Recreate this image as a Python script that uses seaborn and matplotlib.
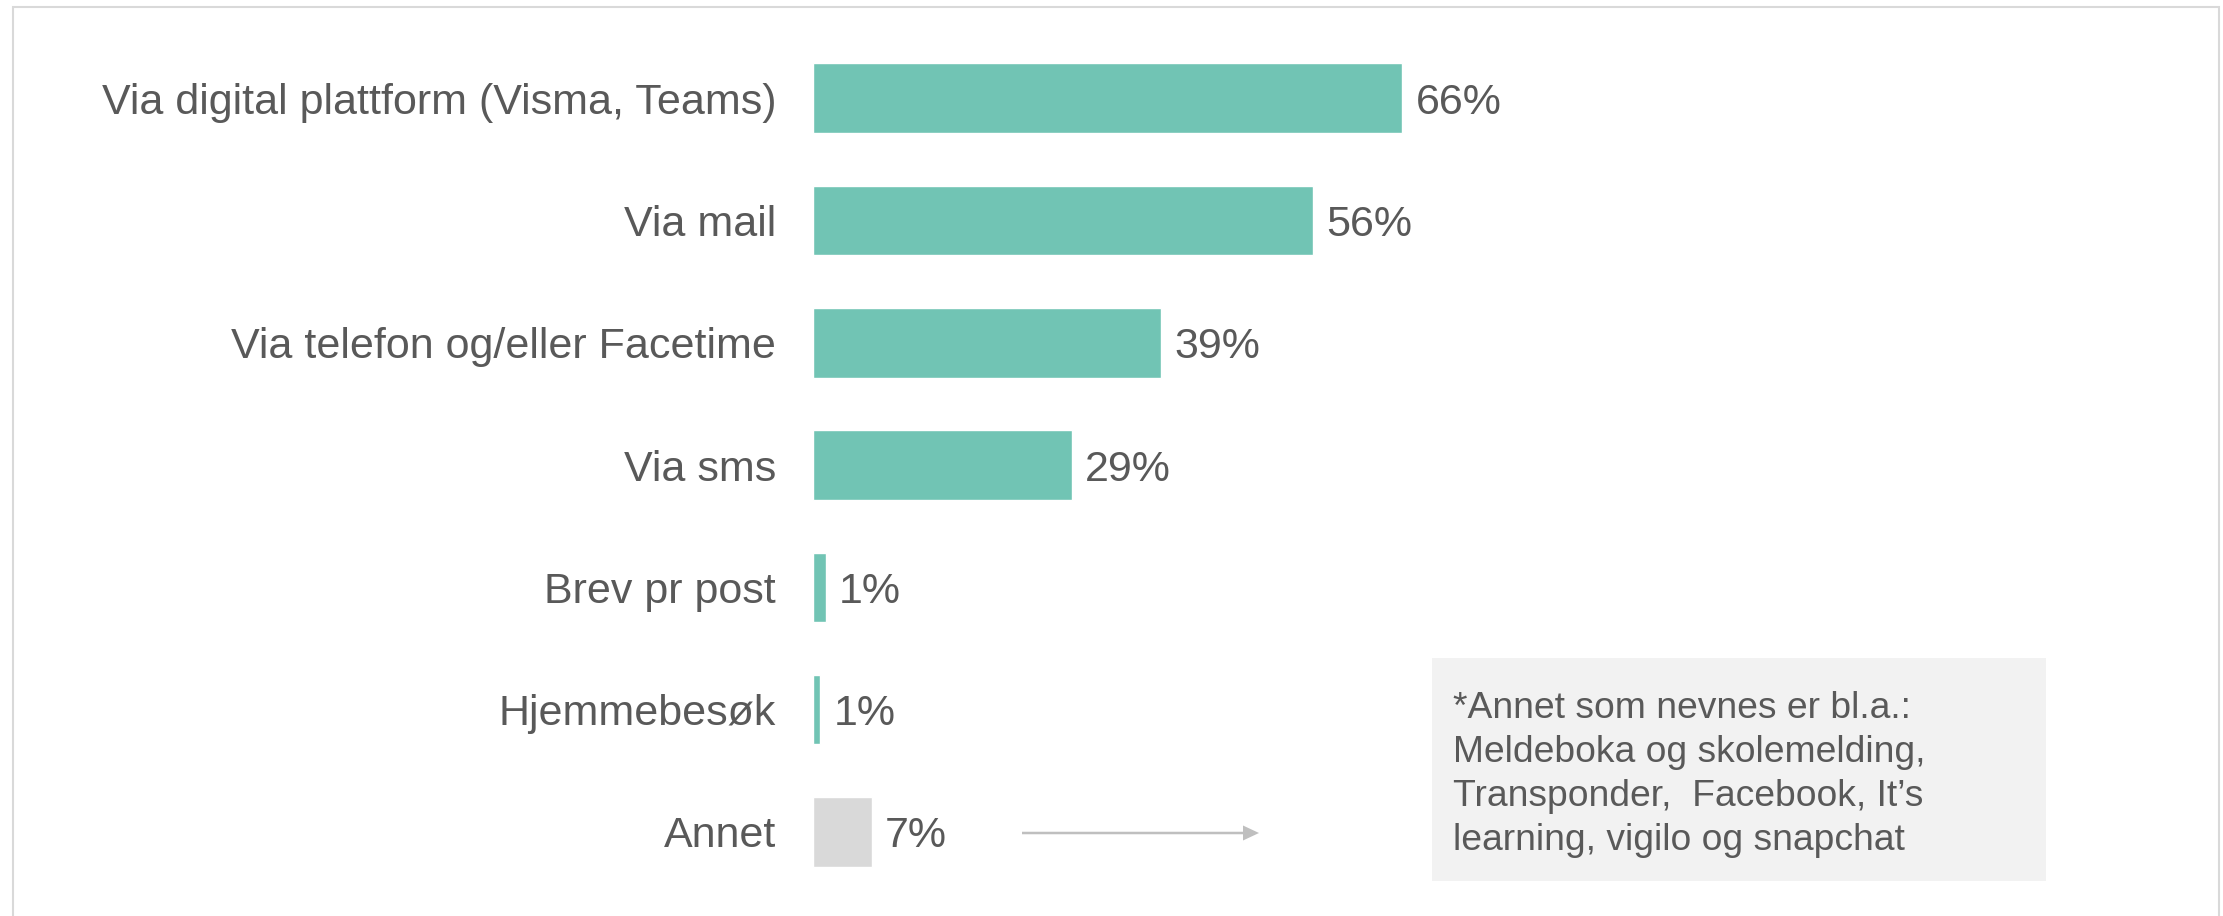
import matplotlib
matplotlib.use('Agg')
import matplotlib.pyplot as plt
import matplotlib.patches as mpatches
import seaborn as sns
import pandas as pd

# data
kategorier = ['Via digital plattform (Visma, Teams)', 'Via mail',
              'Via telefon og/eller Facetime', 'Via sms', 'Brev pr post',
              'Hjemmebesøk', 'Annet']
andel = [66, 56, 39, 29, 1.4, 0.8, 6.6]
etiketter = ['66%', '56%', '39%', '29%', '1%', '1%', '7%']
farger = ['#71C4B4'] * 6 + ['#D9D9D9']
notat = ['*Annet som nevnes er bl.a.:',
         'Meldeboka og skolemelding,',
         'Transponder,  Facebook, It’s',
         'learning, vigilo og snapchat']

sns.set_style('white')
plt.rcParams['font.family'] = ['Liberation Sans', 'DejaVu Sans']
tekstfarge = '#595959'

W, H = 2223, 916
fig = plt.figure(figsize=(W / 100, H / 100), dpi=100)

# akser: x=0 ved 813 px, 1% = 8.93 px; radene 98 px -> 832 px
ax = fig.add_axes([813 / W, 1 - 893 / H, 893 / W, (893 - 37.2) / H])

df = pd.DataFrame({'kat': kategorier, 'andel': andel})
sns.barplot(data=df, x='andel', y='kat', hue='kat', palette=farger,
            legend=False, orient='h', width=0.57, saturation=1, ax=ax)

ax.set_xlim(0, 100)
ax.set_ylim(6.5, -0.5)
ax.set_xlabel('')
ax.set_ylabel('')
ax.set_xticks([])
sns.despine(ax=ax, left=True, bottom=True)
ax.tick_params(axis='y', length=0, pad=26.6, labelsize=31,
               labelcolor=tekstfarge)
ax.patch.set_alpha(0)

for i, (v, txt) in enumerate(zip(andel, etiketter)):
    ax.annotate(txt, xy=(v, i), xytext=(9.5, 0), textcoords='offset points',
                ha='left', va='center_baseline', fontsize=31,
                color=tekstfarge)

# ramme rundt figuren
fig.patches.append(mpatches.Rectangle(
    (13 / W, -0.05), (2219 - 13) / W, 1.05 - 7 / H,
    transform=fig.transFigure, fill=False, edgecolor='#D9D9D9',
    linewidth=1.5))

# pil mot notatet
fig.patches.append(mpatches.FancyArrow(
    1022 / W, 1 - 833 / H, (1259 - 1022 - 16) / W, 0,
    width=2.5 / H, head_width=15 / H, head_length=16 / W,
    length_includes_head=False, transform=fig.transFigure,
    color='#BFBFBF', linewidth=0))

# notatboks
fig.patches.append(mpatches.Rectangle(
    (1432 / W, 1 - 881 / H), (2046 - 1432) / W, (881 - 658) / H,
    transform=fig.transFigure, facecolor='#F2F2F2', edgecolor='none'))
for k, linje in enumerate(notat):
    fig.text(1453 / W, 1 - (705 + 44 * k) / H, linje, ha='left',
             va='center_baseline', fontsize=26.8, color=tekstfarge)

fig.savefig('out.png', dpi=100, facecolor='white')
